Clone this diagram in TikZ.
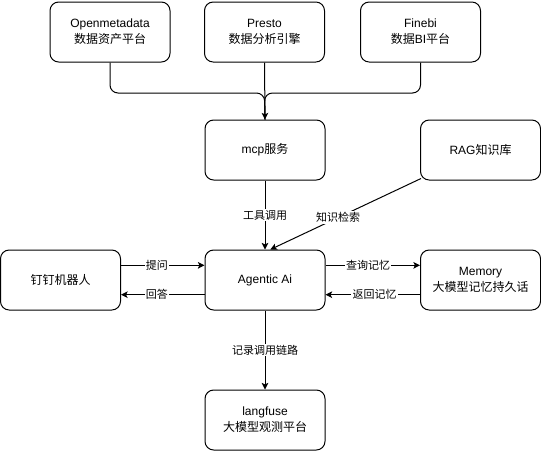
\documentclass[tikz,border=0pt]{standalone}
\usepackage{fontspec}
\setmainfont{Liberation Sans}
\newfontfamily\cjk{Noto Sans CJK SC}
\usetikzlibrary{arrows.meta}

\begin{document}
\begin{tikzpicture}[x=0.75pt, y=-0.75pt, >={Stealth[length=5pt, width=5pt, inset=1.2pt]},
  box/.style={draw, rounded corners=6.5pt, line width=0.75pt, minimum width=90pt,
    minimum height=45pt, align=center, inner sep=0pt, font=\fontsize{9pt}{12pt}\selectfont},
  lbl/.style={fill=white, inner sep=1pt, font=\fontsize{8.25pt}{10pt}\selectfont},
  link/.style={->, line width=0.75pt}]
  \useasboundingbox (0,0) rectangle (541,451);
  % data sources
  \node[box] (om) at (110,32) {Openmetadata\\{\cjk 数据资产平台}};
  \node[box] (presto) at (264.5,32) {Presto\\{\cjk 数据分析引擎}};
  \node[box] (finebi) at (420.5,32) {Finebi\\{\cjk 数据}BI{\cjk 平台}};
  \node[box] (mcp) at (265,150) {mcp{\cjk 服务}};
  \node[box] (rag) at (480.5,150) {RAG{\cjk 知识库}};
  % middle row
  \node[box] (bot) at (60.5,280) {\cjk 钉钉机器人};
  \node[box] (agent) at (265,280) {Agentic Ai};
  \node[box] (mem) at (480.5,280) {Memory\\{\cjk 大模型记忆持久话}};
  \node[box] (lf) at (265,420) {langfuse\\{\cjk 大模型观测平台}};
  % merge into mcp
  \coordinate (merge) at (264.5,93);
  \draw[line width=0.75pt, rounded corners=6pt] (om.south) |- (merge) -- (mcp.north);
  \draw[line width=0.75pt, rounded corners=6pt] (finebi.south) |- (merge) -- (mcp.north);
  \draw[link] (presto.south) -- (mcp.north);
  % calls
  \draw[link] (mcp.south) -- node[lbl] {\cjk 工具调用} (agent.north);
  \draw[link] ([shift={(1,-2)}]rag.south west) -- node[lbl, pos=0.55] {\cjk 知识检索} ([xshift=4pt]agent.north);
  \draw[link] ([yshift=11pt]bot.east) -- node[lbl, pos=0.43] {\cjk 提问} ([yshift=11pt]agent.west);
  \draw[link] ([yshift=-11pt]agent.west) -- node[lbl, pos=0.57] {\cjk 回答} ([yshift=-11pt]bot.east);
  \draw[link] ([yshift=11pt]agent.east) -- node[lbl, pos=0.45] {\cjk 查询记忆} ([yshift=11pt]mem.west);
  \draw[link] ([yshift=-11pt]mem.west) -- node[lbl, pos=0.48] {\cjk 返回记忆} ([yshift=-11pt]agent.east);
  \draw[link] (agent.south) -- node[lbl] {\cjk 记录调用链路} (lf.north);
\end{tikzpicture}
\end{document}
